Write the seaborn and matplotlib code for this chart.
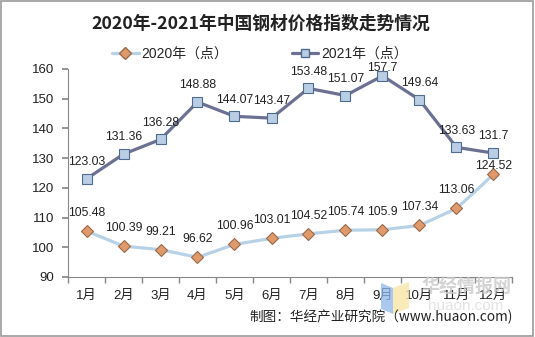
import matplotlib
matplotlib.use("Agg")
import matplotlib.pyplot as plt
import seaborn as sns
import pandas as pd
from matplotlib.patches import Rectangle, Polygon
from matplotlib.ticker import FixedLocator
from matplotlib.lines import Line2D

months = ["1月", "2月", "3月", "4月", "5月", "6月", "7月", "8月", "9月", "10月", "11月", "12月"]
v2020 = [105.48, 100.39, 99.21, 96.62, 100.96, 103.01, 104.52, 105.74, 105.9, 107.34, 113.06, 124.52]
v2021 = [123.03, 131.36, 136.28, 148.88, 144.07, 143.47, 153.48, 151.07, 157.7, 149.64, 133.63, 131.7]
series_names = ["2020年（点）", "2021年（点）"]
yticks = [90, 100, 110, 120, 130, 140, 150, 160]

sns.set_theme(style="white")
plt.rcParams['font.family'] = ['Liberation Sans', 'Noto Sans CJK SC', 'DejaVu Sans']

df = pd.DataFrame({"month": months * 2,
                   "value": v2020 + v2021,
                   "series": [series_names[0]] * 12 + [series_names[1]] * 12})

W, H = 535, 337
fig = plt.figure(figsize=(5.35, 3.37), dpi=100)
ax = fig.add_axes([68/W, 1 - 277/H, (512-68)/W, (277-69)/H])

c20, c21 = "#b7d2e6", "#6c7193"
palette = {series_names[0]: c20, series_names[1]: c21}
sns.lineplot(data=df, x="month", y="value", hue="series", style="series",
             palette=palette, markers={series_names[0]: "D", series_names[1]: "s"},
             dashes=False, linewidth=2.3, ax=ax, sort=False, legend=False)

lines = ax.get_lines()
lines[0].set_markerfacecolor("#e0996a"); lines[0].set_markeredgecolor("#9a6a4a")
lines[0].set_markersize(6.5); lines[0].set_markeredgewidth(0.8)
lines[1].set_markerfacecolor("#b9cde5"); lines[1].set_markeredgecolor("#4f6b8f")
lines[1].set_markersize(6.5); lines[1].set_markeredgewidth(0.8)

lab_kw = dict(textcoords="offset points", ha="center", va="center", fontsize=8.8,
              color="#222222")
for i, (a, b) in enumerate(zip(v2020, v2021)):
    off_a = 6 if i == 11 else 13
    off_b = 6 if i == 8 else 12
    ax.annotate(f"{a:g}", (i, a), xytext=(0, off_a), **lab_kw)
    ax.annotate(f"{b:g}", (i, b), xytext=(0, off_b), **lab_kw)

ax.set_ylim(90, 160)
ax.set_yticks(yticks)
ax.set_xlim(-0.5, 11.5)
ax.set_xlabel("")
ax.set_ylabel("")
ax.tick_params(axis="y", which="major", length=4, direction="out", left=True,
               labelsize=9.5, colors="#888888", labelcolor="#222222", pad=6)
ax.tick_params(axis="x", which="major", length=0, labelsize=9.5, pad=9, labelcolor="#222222")
ax.xaxis.set_minor_locator(FixedLocator([i - 0.5 for i in range(13)]))
ax.tick_params(axis="x", which="minor", length=4, direction="out", bottom=True, color="#888888")
for s in ["top", "right"]:
    ax.spines[s].set_visible(False)
for s in ["left", "bottom"]:
    ax.spines[s].set_color("#888888")
    ax.spines[s].set_linewidth(0.8)
ax.set_facecolor("none")

# watermark (faint logo in the corner, as in the reference)
fig.patches.append(Polygon([(381/W, 1-283/H), (393/W, 1-288/H), (393/W, 1-314/H), (381/W, 1-309/H)],
                           closed=True, transform=fig.transFigure, facecolor="#8fb8ea",
                           edgecolor="none", alpha=0.75, zorder=0))
fig.patches.append(Polygon([(393/W, 1-288/H), (409/W, 1-282/H), (409/W, 1-308/H), (393/W, 1-314/H)],
                           closed=True, transform=fig.transFigure, facecolor="#f7e7a6",
                           edgecolor="none", alpha=0.8, zorder=0))
fig.text(466/W, 1 - 288/H, "华经情报网", ha="center", va="center", fontsize=13,
         fontweight="bold", color="#c8c8c8", alpha=0.8, zorder=0)
fig.text(466/W, 1 - 306/H, "huaon.com", ha="center", va="center", fontsize=11,
         color="#dddddd", alpha=0.8, zorder=0)

# legend
h1 = Line2D([], [], color=c20, lw=2.3, marker="D", markerfacecolor="#e0996a",
            markeredgecolor="#9a6a4a", markersize=6)
h2 = Line2D([], [], color=c21, lw=2.3, marker="s", markerfacecolor="#b9cde5",
            markeredgecolor="#4f6b8f", markersize=6)
fig.legend([h1, h2], series_names, loc="center", bbox_to_anchor=(260/W, 1 - 54/H),
           ncol=2, frameon=False, columnspacing=4.6, handlelength=1.9,
           handletextpad=0.2, prop={"family": ["Liberation Sans", "Noto Sans CJK SC"], "size": 10})

fig.text(261/W, 1 - 24/H, "2020年-2021年中国钢材价格指数走势情况", ha="center", va="center",
         fontsize=12.8, fontweight="bold", color="#222222",
         family=["Noto Sans CJK SC", "DejaVu Sans"])
fig.text(513/W, 1 - 317/H, "制图：华经产业研究院（www.huaon.com)", ha="right", va="center",
         fontsize=9.8, color="#222222", family=["Noto Sans CJK SC", "DejaVu Sans"])

fig.patches.append(Rectangle((0.002, 0.003), 0.995, 0.994, transform=fig.transFigure,
                             fill=False, edgecolor="#999999", linewidth=1.2))

fig.savefig("out.png", dpi=100, facecolor="white")
